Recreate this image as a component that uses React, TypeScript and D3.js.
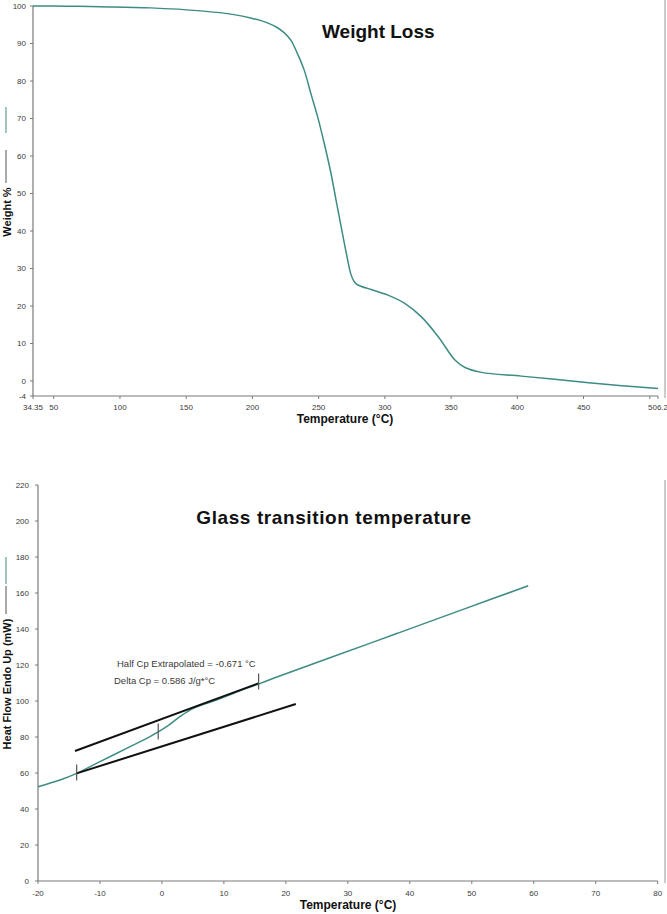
import React from "react";
import * as d3 from "d3";

// ---- Weight loss (TGA) data ----
const tgaTemp = [34.35, 60, 85, 123, 161, 186.1, 198.7, 211.3, 218.9, 223.9, 229, 234, 239.1, 244.1, 249.2, 254.2, 259.3, 263.1, 266.9, 270.7, 274.5, 277, 279.6, 289.7, 302.3, 315, 327.6, 340.3, 352.9, 360.5, 373, 403, 441, 479, 506.2];
const tgaWeight = [100, 99.95, 99.8, 99.5, 98.7, 97.7, 96.8, 95.5, 94.2, 92.9, 90.9, 87.3, 82.9, 76.7, 70.5, 63.4, 55.4, 48.3, 41.3, 34.4, 28.3, 26.4, 25.6, 24.4, 22.9, 20.7, 17.1, 11.8, 5.6, 3.6, 2.3, 1.3, 0, -1.25, -2.0];
const tgaXTicks = [34.35, 50, 100, 150, 200, 250, 300, 350, 400, 450, 500, 506.2];
const tgaXTickLabels = ["34.35", "50", "100", "150", "200", "250", "300", "350", "400", "450", "", "506.2"];
const tgaYTicks = [-4, 0, 10, 20, 30, 40, 50, 60, 70, 80, 90, 100];

// ---- Glass transition (DSC) data ----
const dscTemp = [-20, -16.45, -13.76, -10, -5.7, -1.93, 0.76, 2.9, 5.06, 8.8, 11.5, 15.55, 18, 27.1, 37.9, 48.6, 59.1];
const dscHeat = [52.4, 56.1, 59.8, 66.3, 73.7, 80.2, 85.7, 91.3, 95.9, 100.5, 104.2, 109.4, 112.6, 124, 137.5, 150.9, 164];
const upperTangentT = [-14.03, 15.55];
const upperTangentH = [72.2, 109.8];
const lowerTangentT = [-13.76, 21.6];
const lowerTangentH = [59.8, 98.3];
const markerT = [-13.76, -0.6, 15.6];
const markerH = [60.3, 83, 110.8];
const dscXTicks = [-20, -10, 0, 10, 20, 30, 40, 50, 60, 70, 80];
const dscYTicks = [0, 20, 40, 60, 80, 100, 120, 140, 160, 180, 200, 220];
const annotations = ["Half Cp Extrapolated = -0.671 °C", "Delta Cp = 0.586 J/g*°C"];

const TEAL = "#3d8c84";
const AXIS = "#7a7a7a";
const TXT = "#3a3a3a";
const FONT = "Arial, 'Liberation Sans', Helvetica, sans-serif";

export default function App() {
  // top chart scales
  const x1 = d3.scaleLinear().domain([34.35, 506.2]).range([33, 658]);
  const y1 = d3.scaleLinear().domain([-4, 100]).range([396, 6]);
  const line1 = d3
    .line<number>()
    .x((_, i) => x1(tgaTemp[i]))
    .y((d) => y1(d))
    .curve(d3.curveCatmullRom.alpha(0.5));

  // bottom chart scales
  const x2 = d3.scaleLinear().domain([-20, 80]).range([38, 657.7]);
  const y2 = d3.scaleLinear().domain([0, 220]).range([881, 485]);
  const line2 = d3
    .line<number>()
    .x((_, i) => x2(dscTemp[i]))
    .y((d) => y2(d))
    .curve(d3.curveCatmullRom.alpha(0.5));
  const seg = d3.line<[number, number]>().x((d) => x2(d[0])).y((d) => y2(d[1]));

  return (
    <svg
      width={667}
      height={914}
      style={{ position: "absolute", left: 0, top: 0, background: "#fff", fontFamily: FONT }}
    >
      <rect x={0} y={0} width={667} height={914} fill="#fff" />

      {/* ===== Top chart ===== */}
      <line x1={665} x2={665} y1={0} y2={398} stroke="#999" strokeWidth={1} />
      <line x1={33} x2={33} y1={y1(100)} y2={y1(-4)} stroke={AXIS} strokeWidth={1.2} />
      <line x1={33} x2={658} y1={y1(-4)} y2={y1(-4)} stroke={AXIS} strokeWidth={1.2} />
      {tgaYTicks.map((t) => (
        <g key={"ty" + t}>
          <line x1={30} x2={33} y1={y1(t)} y2={y1(t)} stroke={AXIS} />
          <text x={26} y={y1(t)} dy="0.35em" textAnchor="end" fontSize={8} fill={TXT}>
            {t}
          </text>
        </g>
      ))}
      {tgaXTicks.map((t, i) => (
        <g key={"tx" + t}>
          <line x1={x1(t)} x2={x1(t)} y1={396} y2={399} stroke={AXIS} />
          <text x={x1(t)} y={410} textAnchor="middle" fontSize={8} fill={TXT}>
            {tgaXTickLabels[i]}
          </text>
        </g>
      ))}
      <path d={line1(tgaWeight) || ""} fill="none" stroke={TEAL} strokeWidth={1.5} />
      <text x={322} y={38} fontSize={19} fontWeight="bold" fill="#111">
        Weight Loss
      </text>
      <text x={345} y={423} textAnchor="middle" fontSize={12} fontWeight="bold" fill="#111">
        Temperature (°C)
      </text>
      <text transform="translate(11,212) rotate(-90)" textAnchor="middle" fontSize={11} fontWeight="bold" fill="#111">
        Weight %
      </text>
      <line x1={6} x2={6} y1={150} y2={183} stroke="#555" strokeWidth={1} />
      <line x1={6} x2={6} y1={107} y2={133} stroke={TEAL} strokeWidth={1} />

      {/* ===== Bottom chart ===== */}
      <line x1={665} x2={665} y1={480} y2={883} stroke="#999" strokeWidth={1} />
      <line x1={38} x2={38} y1={y2(220)} y2={y2(0)} stroke={AXIS} strokeWidth={1.2} />
      <line x1={38} x2={657.7} y1={y2(0)} y2={y2(0)} stroke={AXIS} strokeWidth={1.2} />
      {dscYTicks.map((t) => (
        <g key={"dy" + t}>
          <line x1={35} x2={38} y1={y2(t)} y2={y2(t)} stroke={AXIS} />
          <text x={29} y={y2(t)} dy="0.35em" textAnchor="end" fontSize={8} fill={TXT}>
            {t}
          </text>
        </g>
      ))}
      {dscXTicks.map((t) => (
        <g key={"dx" + t}>
          <line x1={x2(t)} x2={x2(t)} y1={881} y2={884} stroke={AXIS} />
          <text x={x2(t)} y={896} textAnchor="middle" fontSize={8} fill={TXT}>
            {t}
          </text>
        </g>
      ))}
      <path d={line2(dscHeat) || ""} fill="none" stroke={TEAL} strokeWidth={1.5} />
      <path
        d={seg([[upperTangentT[0], upperTangentH[0]], [upperTangentT[1], upperTangentH[1]]]) || ""}
        stroke="#111"
        strokeWidth={2}
        fill="none"
      />
      <path
        d={seg([[lowerTangentT[0], lowerTangentH[0]], [lowerTangentT[1], lowerTangentH[1]]]) || ""}
        stroke="#111"
        strokeWidth={2}
        fill="none"
      />
      {markerT.map((t, i) => (
        <line
          key={"m" + i}
          x1={x2(t)}
          x2={x2(t)}
          y1={y2(markerH[i]) - 8}
          y2={y2(markerH[i]) + 8}
          stroke="#555"
          strokeWidth={1.2}
        />
      ))}
      <text x={117} y={667} fontSize={9.5} fill={TXT}>
        {annotations[0]}
      </text>
      <text x={114} y={684} fontSize={9.5} fill={TXT}>
        {annotations[1]}
      </text>
      <text x={334} y={524} textAnchor="middle" fontSize={19} fontWeight="bold" letterSpacing={0.6} fill="#111">
        Glass transition temperature
      </text>
      <text x={348} y={909} textAnchor="middle" fontSize={12} fontWeight="bold" fill="#111">
        Temperature (°C)
      </text>
      <text transform="translate(11,684) rotate(-90)" textAnchor="middle" fontSize={11} fontWeight="bold" fill="#111">
        Heat Flow Endo Up (mW)
      </text>
      <line x1={6} x2={6} y1={586} y2={614} stroke="#555" strokeWidth={1} />
      <line x1={6} x2={6} y1={557} y2={584} stroke={TEAL} strokeWidth={1} />
    </svg>
  );
}
